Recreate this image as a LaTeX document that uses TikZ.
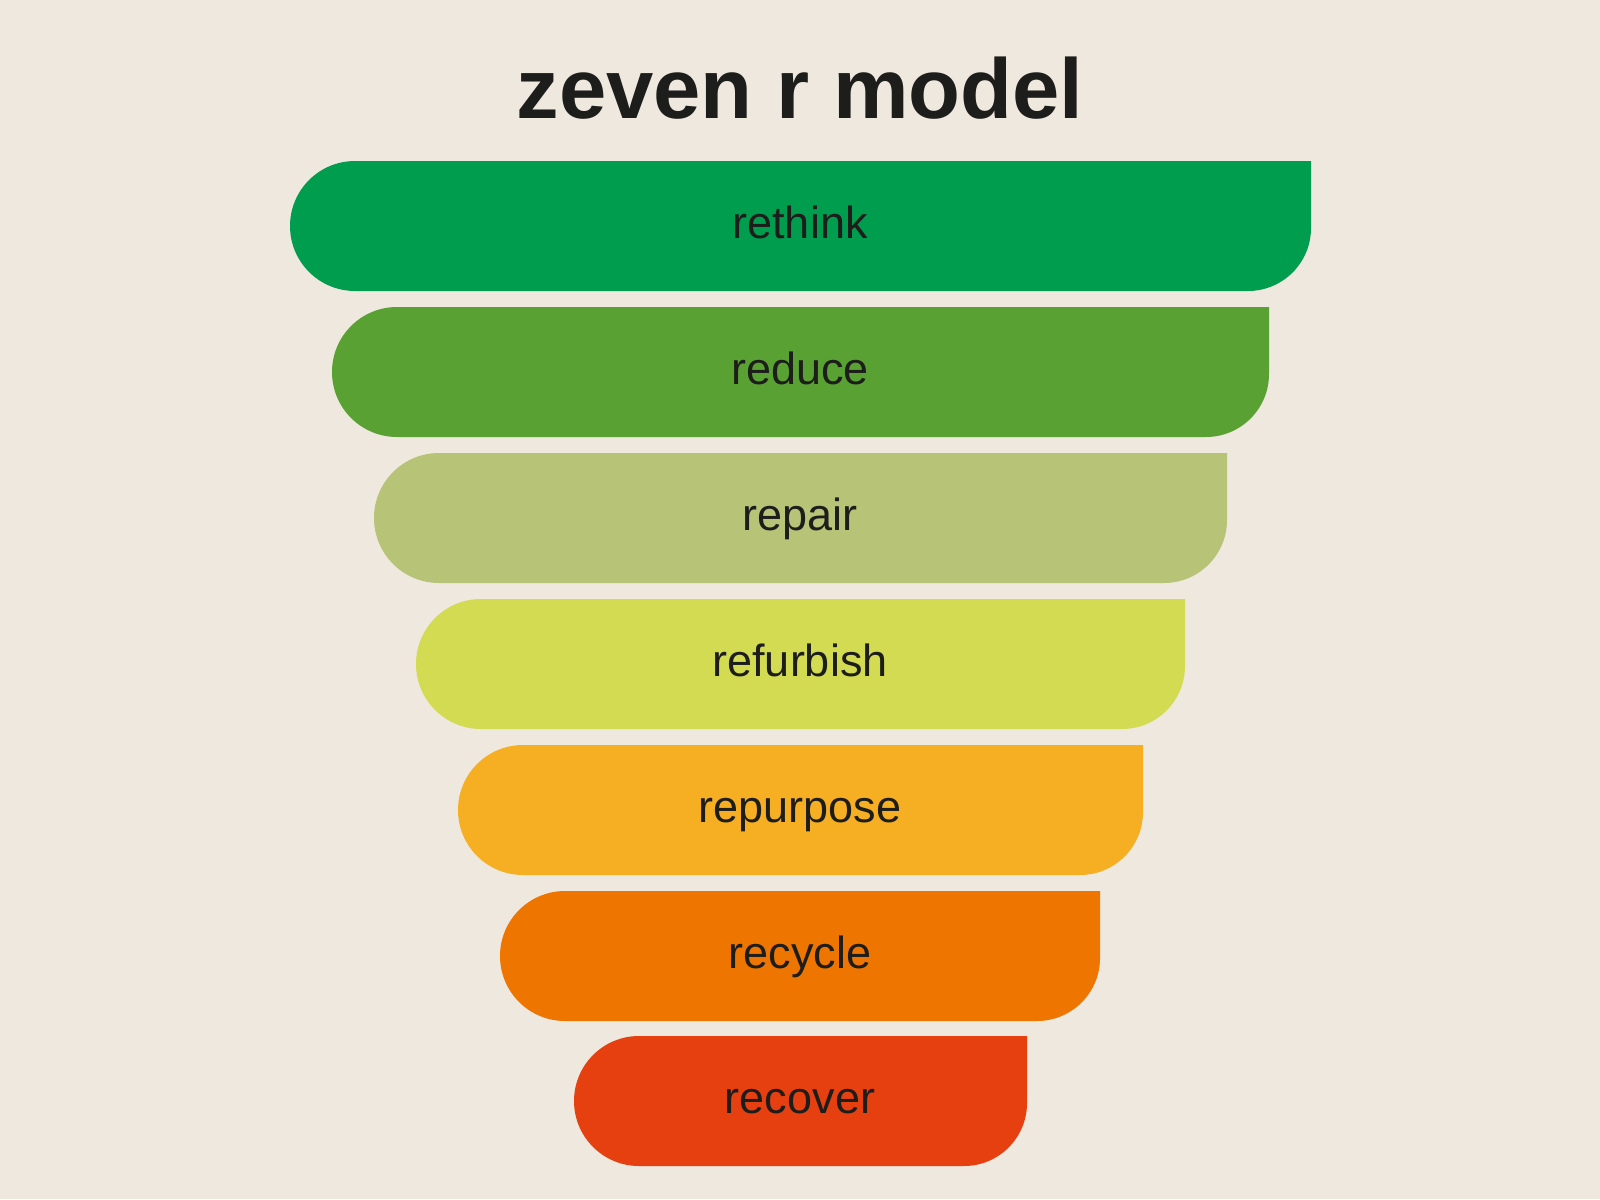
\documentclass[tikz,border=0pt]{standalone}
\usepackage{fontspec}
\setmainfont{Liberation Sans}
\usepackage{tikz}
\usetikzlibrary{positioning}

\definecolor{achtergrond}{RGB}{239,232,222}
\definecolor{tekstkleur}{RGB}{29,29,27}
\definecolor{kleurRethink}{RGB}{0,157,78}
\definecolor{kleurReduce}{RGB}{90,161,51}
\definecolor{kleurRepair}{RGB}{183,195,119}
\definecolor{kleurRefurbish}{RGB}{211,219,82}
\definecolor{kleurRepurpose}{RGB}{246,174,34}
\definecolor{kleurRecycle}{RGB}{238,118,0}
\definecolor{kleurRecover}{RGB}{230,64,17}

\begin{document}
\begin{tikzpicture}[x=1pt,y=1pt,
  titeltekst/.style={text=tekstkleur,font=\fontsize{85}{100}\selectfont\bfseries,anchor=base},
  balktekst/.style={text=tekstkleur,font=\fontsize{45}{54}\selectfont,anchor=base}]
%Alles in Pixeln, y nach unten negativ
\fill[achtergrond] (0,0) rectangle (1600,-1199);
\useasboundingbox (0,0) rectangle (1600,-1199);
  \pgfmathsetmacro{\hBalk}{130}
  \pgfmathsetmacro{\rL}{\hBalk/2}
  \pgfmathsetmacro{\rR}{63}
\node[titeltekst] (titel) at (800,-118) {zeven r model};
%naam/kleur/links/rechts/boven
\foreach \naam/\kleur/\links/\rechts/\boven in {rethink/kleurRethink/290/1311/161,
  reduce/kleurReduce/332/1269/307, repair/kleurRepair/374/1227/453,
  refurbish/kleurRefurbish/416/1185/599, repurpose/kleurRepurpose/458/1143/745,
  recycle/kleurRecycle/500/1100/891, recover/kleurRecover/574/1027/1036}{
\pgfmathsetmacro{\yB}{-\boven}
\pgfmathsetmacro{\yO}{-\boven-\hBalk}
\fill[\kleur] (\links+\rL,\yB) -- (\rechts,\yB) -- (\rechts,\yO+\rR) arc[start angle=0,end angle=-90,radius=\rR] -- (\links+\rL,\yO) arc[start angle=270,end angle=90,radius=\rL] -- cycle;
\node[balktekst] (\naam) at (800,\yB-\rL-12) {\naam};
}
\end{tikzpicture}
\end{document}
